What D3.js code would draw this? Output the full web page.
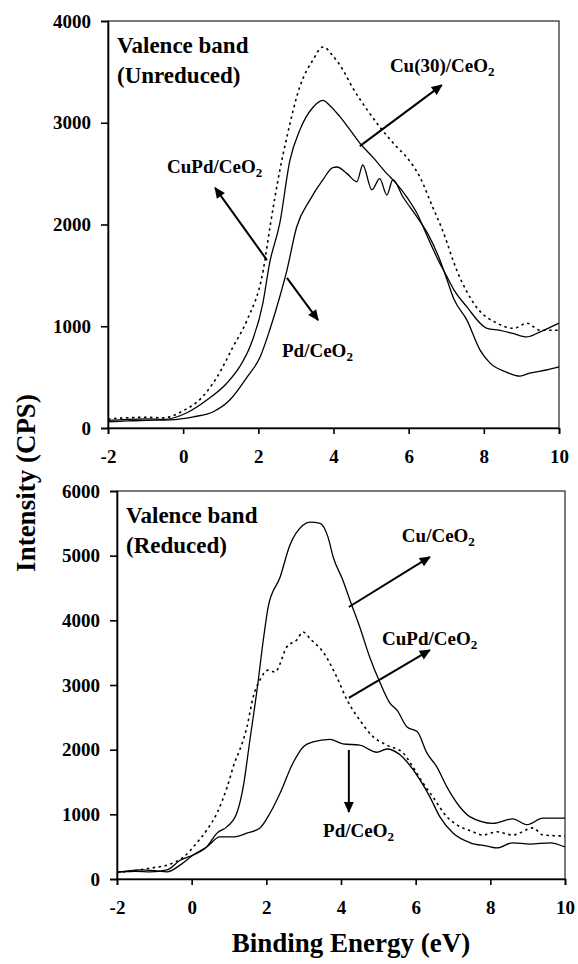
<!DOCTYPE html>
<html>
<head>
<meta charset="utf-8">
<script src="https://cdn.jsdelivr.net/npm/d3@7/dist/d3.min.js"></script>
<style>
  body { margin: 0; background: #fff; }
  svg text { font-family: "Liberation Serif", Tinos, "Times New Roman", Times, "DejaVu Serif", serif; font-weight: bold; fill: #000; }
</style>
</head>
<body>
<svg id="chart" width="578" height="964"></svg>
<script>
// ---- Valence band spectra, unreduced catalysts ----
const unredCuPdE = [-2, -1.5, -1, -0.5, -0.35, 0, 0.37, 0.9, 1.33, 1.7, 2.13, 2.31, 2.57, 2.76, 3.1, 3.45, 3.72, 4.0, 4.25, 4.5, 4.9, 5.23, 5.69, 5.95, 6.3, 6.64, 6.9, 7.28, 7.8, 8.35, 8.8, 9.15, 9.5, 10];
const unredCuPdI = [90, 100, 105, 100, 110, 170, 255, 500, 800, 1060, 1550, 1975, 2530, 2860, 3350, 3615, 3745, 3650, 3520, 3350, 3125, 2960, 2760, 2660, 2465, 2170, 1945, 1550, 1190, 1030, 980, 1030, 960, 960];

const unredCu30E = [-2, -1.5, -1, -0.5, 0.1, 0.63, 1.16, 1.5, 1.78, 2.12, 2.3, 2.57, 2.84, 3.1, 3.45, 3.72, 3.9, 4.17, 4.44, 4.7, 5.05, 5.42, 5.68, 5.95, 6.22, 6.5, 6.8, 7.0, 7.2, 7.55, 8.08, 8.43, 8.77, 9.14, 9.5, 10];
const unredCu30I = [75, 85, 90, 85, 150, 275, 440, 600, 800, 1225, 1620, 2010, 2630, 2925, 3150, 3220, 3170, 3060, 2930, 2800, 2660, 2500, 2400, 2270, 2110, 1880, 1640, 1500, 1360, 1190, 980, 960, 930, 895, 945, 1030];

const unredPdE = [-2, -1.5, -1, -0.35, 0.27, 0.8, 1.24, 1.7, 2.05, 2.3, 2.57, 2.76, 3.02, 3.37, 3.72, 3.98, 4.09, 4.36, 4.62, 4.78, 5.02, 5.23, 5.42, 5.58, 5.85, 6.22, 6.5, 6.8, 7.0, 7.2, 7.55, 7.9, 8.16, 8.6, 8.96, 9.22, 9.67, 10];
const unredPdI = [60, 70, 75, 80, 110, 160, 275, 500, 700, 960, 1290, 1550, 1975, 2240, 2440, 2560, 2565, 2500, 2420, 2585, 2340, 2450, 2290, 2440, 2270, 2075, 1915, 1680, 1480, 1270, 1060, 765, 640, 550, 510, 540, 570, 600];

// ---- Valence band spectra, reduced catalysts ----
const redCuE = [-2, -1.5, -1.1, -0.66, -0.31, 0.04, 0.41, 0.68, 0.95, 1.21, 1.38, 1.56, 1.75, 1.92, 2.05, 2.37, 2.63, 2.98, 3.17, 3.44, 3.65, 3.79, 4.05, 4.24, 4.5, 4.77, 5.05, 5.31, 5.5, 5.77, 6.04, 6.3, 6.57, 6.84, 7.19, 7.46, 8.07, 8.6, 8.98, 9.41, 10];
const redCuI = [110, 120, 110, 140, 290, 370, 500, 710, 810, 1020, 1420, 2150, 2920, 3700, 4210, 4670, 5160, 5470, 5520, 5500, 5290, 4980, 4620, 4310, 3900, 3430, 3030, 2720, 2610, 2350, 2280, 1950, 1730, 1420, 1110, 960, 860, 930, 840, 940, 940];

const redCuPdE = [-2, -1.5, -1.1, -0.66, -0.22, 0.14, 0.41, 0.68, 0.95, 1.15, 1.29, 1.48, 1.65, 1.83, 2.05, 2.23, 2.55, 2.82, 2.98, 3.2, 3.52, 3.89, 4.16, 4.5, 4.86, 5.23, 5.66, 5.93, 6.2, 6.46, 6.84, 7.1, 7.54, 7.8, 8.18, 8.6, 9.14, 9.41, 10];
const redCuPdI = [100, 130, 170, 215, 340, 560, 760, 1020, 1420, 1800, 2000, 2350, 2820, 3080, 3230, 3200, 3590, 3700, 3820, 3700, 3510, 3120, 2770, 2460, 2200, 2070, 1950, 1730, 1480, 1270, 960, 840, 730, 680, 730, 680, 790, 680, 665];

const redPdE = [-2, -1.38, -1.0, -0.66, -0.31, 0.04, 0.41, 0.76, 1.1, 1.48, 1.83, 2.1, 2.37, 2.71, 3.0, 3.25, 3.7, 4.05, 4.5, 4.96, 5.23, 5.58, 5.77, 6.12, 6.38, 6.65, 7.0, 7.46, 7.91, 8.18, 8.6, 9.06, 9.6, 10];
const redPdI = [100, 140, 130, 110, 215, 370, 500, 650, 650, 710, 790, 1020, 1330, 1790, 2050, 2120, 2160, 2090, 2070, 1960, 2010, 1920, 1810, 1530, 1270, 960, 710, 560, 510, 480, 560, 540, 560, 495];

// ---- axis ticks ----
const energyTicks = [-2, 0, 2, 4, 6, 8, 10];
const unredIntensityTicks = [0, 1000, 2000, 3000, 4000];
const redIntensityTicks = [0, 1000, 2000, 3000, 4000, 5000, 6000];

// ---- labels and arrow annotations (data coordinates) ----
const unredTitle = ["Valence band", "(Unreduced)"];
const redTitle = ["Valence band", "(Reduced)"];
const unredLabels = [
  { base: "Cu(30)/CeO", sub: "2", e: 5.5, i: 3500, from: [4.70, 2770], to: [6.88, 3370] },
  { base: "CuPd/CeO", sub: "2", e: -0.43, i: 2505, from: [2.23, 1650], to: [0.85, 2360] },
  { base: "Pd/CeO", sub: "2", e: 2.63, i: 697, from: [2.76, 1475], to: [3.59, 1060] }
];
const redLabels = [
  { base: "Cu/CeO", sub: "2", e: 5.63, i: 5211, from: [4.21, 4206], to: [6.38, 4980] },
  { base: "CuPd/CeO", sub: "2", e: 5.1, i: 3618, from: [4.21, 2800], to: [6.38, 3540] },
  { base: "Pd/CeO", sub: "2", e: 3.52, i: 650, from: [4.21, 1995], to: [4.21, 1036] }
];

const FONT = "'Liberation Serif', Tinos, 'Times New Roman', Times, 'DejaVu Serif', serif";
const svg = d3.select("#chart");

svg.append("defs").append("marker")
  .attr("id", "head")
  .attr("viewBox", "0 0 10 10")
  .attr("refX", 9).attr("refY", 5)
  .attr("markerWidth", 13).attr("markerHeight", 11)
  .attr("markerUnits", "userSpaceOnUse")
  .attr("orient", "auto")
  .append("path").attr("d", "M0,0.5 L10,5 L0,9.5 Z").attr("fill", "#000");

// plain hyphen for negative tick values
const fmt = d => String(d);

function panel(opts) {
  const { left, right, top, bottom, yMax, yTicks, series, title, labels } = opts;
  const x = d3.scaleLinear().domain([-2, 10]).range([left, right]);
  const y = d3.scaleLinear().domain([0, yMax]).range([bottom, top]);
  const g = svg.append("g");

  // plot frame
  g.append("rect")
    .attr("x", left).attr("y", top)
    .attr("width", right - left).attr("height", bottom - top)
    .attr("fill", "none").attr("stroke", "#333").attr("stroke-width", 1.3);

  const yAxis = g.append("g")
    .attr("transform", `translate(${left},0)`)
    .call(d3.axisLeft(y).tickValues(yTicks).tickFormat(fmt).tickSizeOuter(0).tickSize(7).tickPadding(10));
  const xAxis = g.append("g")
    .attr("transform", `translate(0,${bottom})`)
    .call(d3.axisBottom(x).tickValues(energyTicks).tickFormat(fmt).tickSizeOuter(0).tickSize(6).tickPadding(16));
  [yAxis, xAxis].forEach(a => {
    a.attr("font-family", FONT).attr("font-size", 19);
    a.selectAll("path.domain").attr("stroke", "#000").attr("stroke-width", 1.6);
    a.selectAll("line").attr("stroke", "#000").attr("stroke-width", 1.6);
    a.selectAll("text").style("font-family", FONT).style("font-size", "19px").style("font-weight", "bold");
  });

  const line = d3.line().x(d => x(d[0])).y(d => y(d[1])).curve(d3.curveMonotoneX);
  series.forEach(s => {
    const pts = s.e.map((e, k) => [e, s.i[k]]);
    g.append("path")
      .datum(pts)
      .attr("d", line)
      .attr("fill", "none")
      .attr("stroke", "#000")
      .attr("stroke-width", s.dashed ? 1.6 : 1.3)
      .attr("stroke-dasharray", s.dashed ? "2.5,3.5" : null);
  });

  // panel title
  const t = g.append("text").attr("x", left + 9).attr("y", top + 32).style("font-size", "23px").style("font-family", FONT);
  t.append("tspan").attr("x", left + 9).text(title[0]);
  t.append("tspan").attr("x", left + 9).attr("dy", 30).text(title[1]);

  // series labels with arrows
  labels.forEach(l => {
    g.append("line")
      .attr("x1", x(l.from[0])).attr("y1", y(l.from[1]))
      .attr("x2", x(l.to[0])).attr("y2", y(l.to[1]))
      .attr("stroke", "#000").attr("stroke-width", 2)
      .attr("marker-end", "url(#head)");
    const lt = g.append("text").attr("x", x(l.e)).attr("y", y(l.i)).style("font-size", "19px").style("font-family", FONT);
    lt.append("tspan").text(l.base);
    lt.append("tspan").attr("dy", 4).style("font-size", "13px").text(l.sub);
  });
}

panel({
  left: 108, right: 559, top: 21, bottom: 428, yMax: 4000,
  yTicks: unredIntensityTicks,
  series: [
    { e: unredCuPdE, i: unredCuPdI, dashed: true },
    { e: unredCu30E, i: unredCu30I },
    { e: unredPdE, i: unredPdI }
  ],
  title: unredTitle, labels: unredLabels
});

panel({
  left: 117, right: 565, top: 491, bottom: 879, yMax: 6000,
  yTicks: redIntensityTicks,
  series: [
    { e: redCuE, i: redCuI },
    { e: redCuPdE, i: redCuPdI, dashed: true },
    { e: redPdE, i: redPdI }
  ],
  title: redTitle, labels: redLabels
});

// axis titles
svg.append("text")
  .attr("x", 351).attr("y", 952)
  .attr("text-anchor", "middle")
  .style("font-size", "27px").style("font-family", FONT)
  .text("Binding Energy (eV)");
svg.append("text")
  .attr("transform", "translate(35,483) rotate(-90)")
  .attr("text-anchor", "middle")
  .style("font-size", "27px").style("font-family", FONT)
  .text("Intensity (CPS)");
</script>
</body>
</html>
